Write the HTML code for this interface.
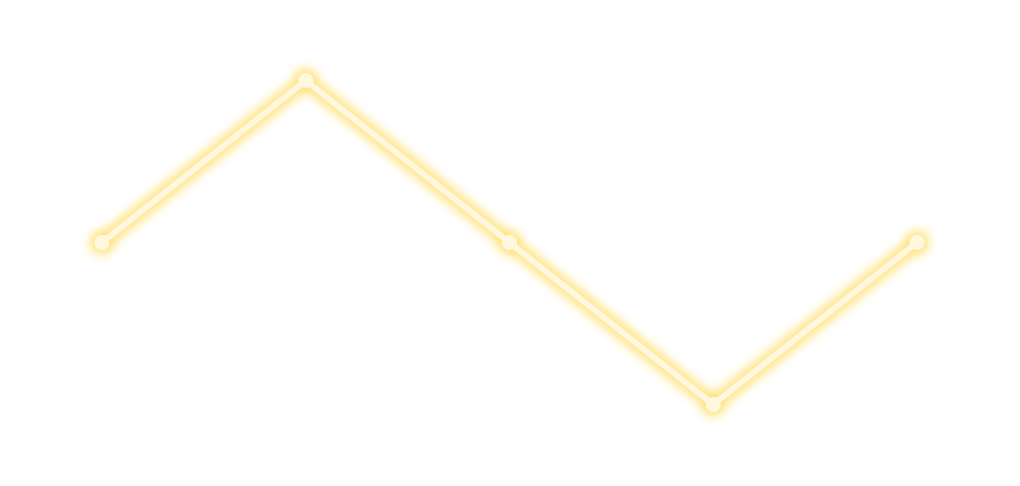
<!DOCTYPE html>
<html><head><meta charset="utf-8"><style>html,body{margin:0;padding:0;background:#fff;}svg{display:block}</style></head>
<body>
<svg id="chart" width="1020" height="486" xmlns="http://www.w3.org/2000/svg">
<defs>
<filter id="glow" x="-20%" y="-50%" width="140%" height="200%">
<feGaussianBlur in="SourceGraphic" stdDeviation="6" result="b"/>
<feMerge><feMergeNode in="b"/><feMergeNode in="b"/></feMerge>
</filter>
</defs>
<g id="glowLayer" filter="url(#glow)" opacity="0.8"></g>
<g id="mainLayer"></g>
</svg>
<script>
const categories = ["A","B","C","D","E"];
const values = [0, 1, 0, -1, 0];
const xScale = i => 102 + i * (917 - 102) / (categories.length - 1);
const yScale = v => 242.5 - v * 162;
const ns = "http://www.w3.org/2000/svg";
const glow = document.getElementById('glowLayer');
const main = document.getElementById('mainLayer');
const d = values.map((v,i)=>(i?'L':'M')+xScale(i)+','+yScale(v)).join(' ');
const g = document.createElementNS(ns,'path');
g.setAttribute('d',d);g.setAttribute('fill','none');g.setAttribute('stroke','#ffd84a');g.setAttribute('stroke-width','8');g.setAttribute('stroke-linejoin','round');


glow.appendChild(g);
const p = document.createElementNS(ns,'path');
p.setAttribute('d',d);p.setAttribute('fill','none');p.setAttribute('stroke','#fff7e0');p.setAttribute('stroke-width','6');p.setAttribute('stroke-linejoin','round');


main.appendChild(p);
values.forEach((v,i)=>{
  const cg = document.createElementNS(ns,'circle');
  cg.setAttribute('cx',xScale(i));cg.setAttribute('cy',yScale(v));cg.setAttribute('r','9');cg.setAttribute('fill','#ffd84a');
  
  
  glow.appendChild(cg);
  const c = document.createElementNS(ns,'circle');
  c.setAttribute('cx',xScale(i));c.setAttribute('cy',yScale(v));c.setAttribute('r','7.5');c.setAttribute('fill','#fff7e0');
  
  
  main.appendChild(c);
});
</script>
</body></html>
